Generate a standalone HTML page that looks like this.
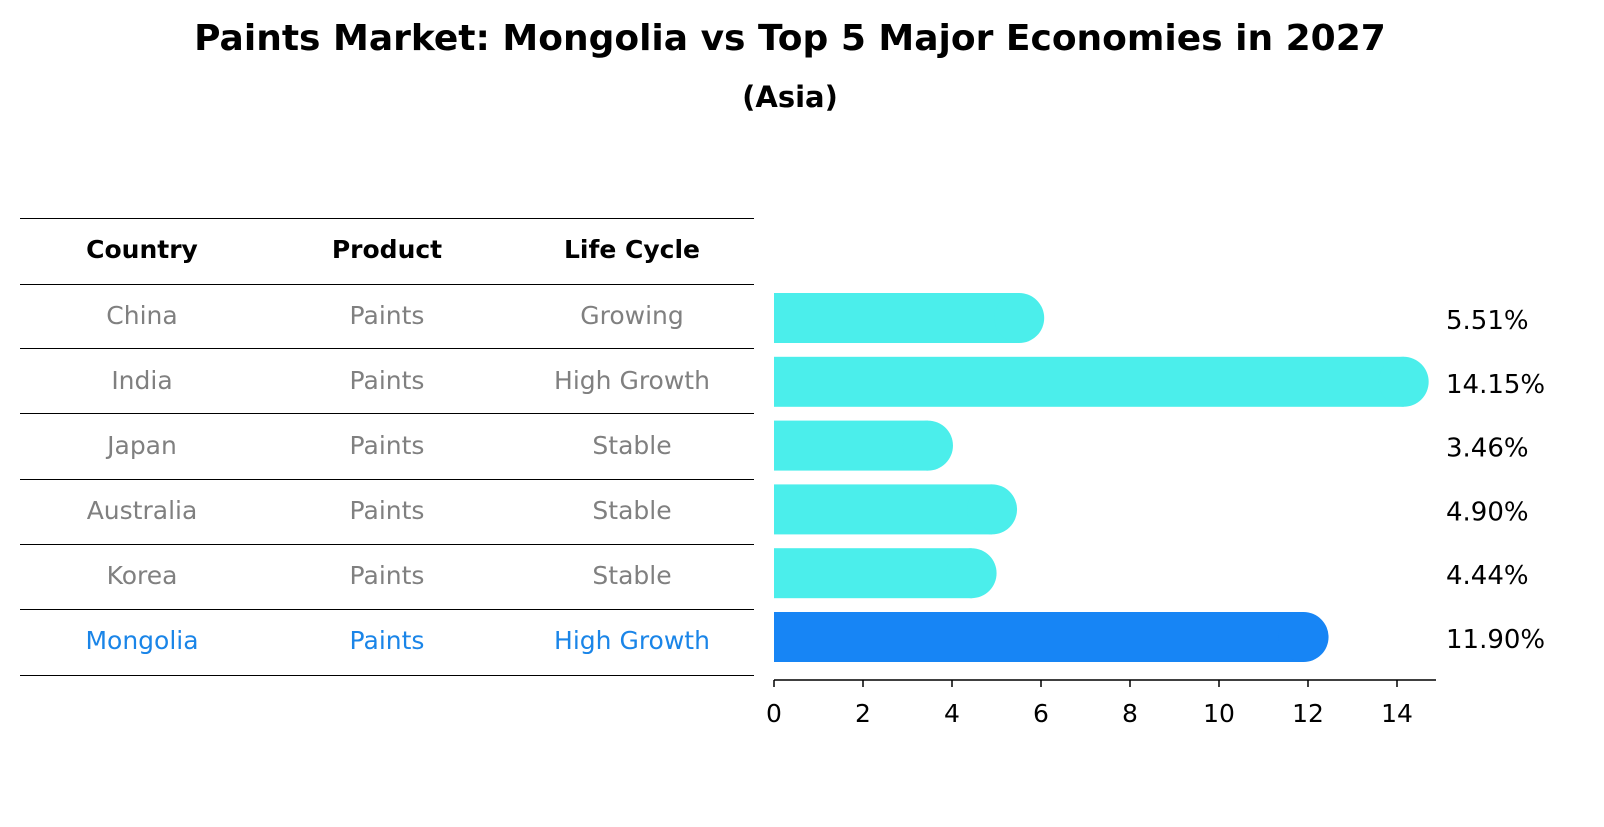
<!DOCTYPE html>
<html><head><meta charset="utf-8"><style>
body{margin:0;background:#fff;font-family:"DejaVu Sans","Liberation Sans",sans-serif;}
svg text{font-family:"DejaVu Sans","Liberation Sans",sans-serif;}
</style></head><body>
<svg id="c" width="1604" height="823" xmlns="http://www.w3.org/2000/svg">
<text x="790" y="50" text-anchor="middle" font-size="36" font-weight="bold">Paints Market: Mongolia vs Top 5 Major Economies in 2027</text>
<text x="790" y="107" text-anchor="middle" font-size="29" font-weight="bold">(Asia)</text>
<g id="table"></g>
<g id="bars"></g>
</svg>
<script>
const countries=["China","India","Japan","Australia","Korea","Mongolia"];
const products=["Paints","Paints","Paints","Paints","Paints","Paints"];
const lifecycles=["Growing","High Growth","Stable","Stable","Stable","High Growth"];
const values=[5.51,14.15,3.46,4.90,4.44,11.90];
const ticks=[0,2,4,6,8,10,12,14];
const NS="http://www.w3.org/2000/svg";
function mk(tag,attrs,parent,txt){const e=document.createElementNS(NS,tag);for(const k in attrs)e.setAttribute(k,attrs[k]);if(txt!==undefined)e.textContent=txt;parent.appendChild(e);return e;}
const tb=document.getElementById('table');
const lineYs=[218,284,348,413,479,544,609,675];
lineYs.forEach((y,i)=>{const l=mk('line',{x1:20,x2:754,y1:y+0.5,y2:y+0.5,stroke:'#000','stroke-width':1},tb);

});
const colX=[142,387,632];
["Country","Product","Life Cycle"].forEach((h,i)=>{const t=mk('text',{x:colX[i],y:258,'text-anchor':'middle','font-size':25,'font-weight':'bold'},tb,h);

});
countries.forEach((c,i)=>{const y=324+i*65;const col=i===countries.length-1?'#1a85e8':'#808080';
[c,products[i],lifecycles[i]].forEach((v,j)=>{const t=mk('text',{x:colX[j],y:y,'text-anchor':'middle','font-size':25,fill:col},tb,v);

});});
const bg=document.getElementById('bars');
const x0=774,ppu=44.5;
const xs=v=>x0+v*ppu;
values.forEach((v,i)=>{const cy=318+i*63.8;const col=i===values.length-1?'#1785f5':'#4beeeb';
const g=mk('g',{},bg);


mk('rect',{x:x0,y:cy-25,width:xs(v)-x0,height:50,fill:col},g);
mk('circle',{cx:xs(v),cy:cy,r:25,fill:col},g);
const t=mk('text',{x:1446,y:cy+11,'font-size':26},bg,v.toFixed(2)+'%');

});
const ax=mk('line',{x1:774,x2:1436,y1:680,y2:680,stroke:'#000','stroke-width':1.5},bg);


ticks.forEach(t=>{mk('line',{x1:xs(t),x2:xs(t),y1:680,y2:687,stroke:'#000','stroke-width':1.5},bg);
const tx=mk('text',{x:xs(t),y:722,'text-anchor':'middle','font-size':25},bg,String(t));

});
</script>
</body></html>
